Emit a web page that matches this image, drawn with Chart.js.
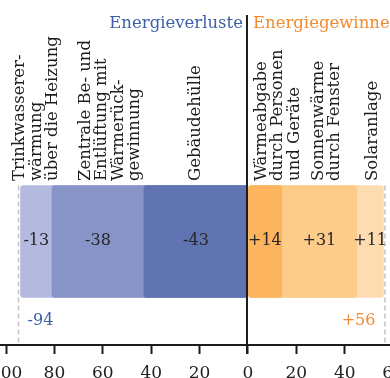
<!DOCTYPE html>
<html lang="de">
<head>
<meta charset="utf-8">
<title>Energiebilanz</title>
<script src="https://cdn.jsdelivr.net/npm/chart.js@4.4.1/dist/chart.umd.min.js"></script>
<style>
  html, body { margin: 0; padding: 0; background: #fff; }
  #wrap { width: 390px; height: 378px; }
</style>
</head>
<body>
<div id="wrap"><canvas id="chart" width="390" height="378"></canvas></div>
<script>
// Energiebilanz eines Gebäudes: Verluste links der Null, Gewinne rechts

// Verluste, von links nach rechts
const lossLabels = [
  ['Trinkwasserer-', 'wärmung', 'über die Heizung'],
  ['Zentrale Be- und', 'Entlüftung mit', 'Wärmerück-', 'gewinnung'],
  ['Gebäudehülle']
];
const lossValues = [-13, -38, -43];

// Gewinne, von links nach rechts
const gainLabels = [
  ['Wärmeabgabe', 'durch Personen', 'und Geräte'],
  ['Sonnenwärme', 'durch Fenster'],
  ['Solaranlage']
];
const gainValues = [14, 31, 11];

const tickValues = [-100, -80, -60, -40, -20, 0, 20, 40, 60];
const tickLabels = ['100', '80', '60', '40', '20', '0', '20', '40', '60'];

const lossColors = ['#b4badf', '#8894c7', '#6074b1'];
const gainColors = ['#fcb45f', '#fdcb8a', '#fedcb1'];
const BLUE = '#3b5fa9';
const ORANGE = '#f28a2e';
const INK = '#1c1c1c';
const FONT = '"DejaVu Serif", serif';

// small sideways nudges for the rotated label blocks
const labelShift = [0, 12, 0, 13, 7, 2];

const sum = arr => arr.reduce((a, b) => a + b, 0);

// every segment knows its inner and outer edge; nearest to zero = rank 0
const segments = [];
lossValues.forEach((v, i) => {
  const inner = sum(lossValues.slice(i + 1));
  segments.push({ value: v, inner: inner, outer: inner + v, lines: lossLabels[i],
    color: lossColors[i], rank: lossValues.length - 1 - i, text: String(v) });
});
gainValues.forEach((v, i) => {
  const inner = sum(gainValues.slice(0, i));
  segments.push({ value: v, inner: inner, outer: inner + v, lines: gainLabels[i],
    color: gainColors[i], rank: i, text: '+' + v });
});

const lossTotal = sum(lossValues);
const gainTotal = sum(gainValues);

// bars run from zero to their outer edge and overlap, inner ones on top
const datasets = segments.map(s => ({
  label: s.lines.join(' '),
  data: [[Math.min(0, s.outer), Math.max(0, s.outer)]],
  backgroundColor: s.color,
  borderWidth: 0,
  borderRadius: 3,
  borderSkipped: false,
  barThickness: 112,
  grouped: false,
  order: s.rank
}));

const overlay = {
  id: 'overlay',
  afterDatasetsDraw(chart) {
    const { ctx } = chart;
    const x = chart.scales.x;
    const bar = chart.getDatasetMeta(0).data[0];
    const barTop = bar.y - bar.height / 2;
    const barBottom = bar.y + bar.height / 2;
    const x0 = x.getPixelForValue(0);

    ctx.save();

    // dashed guides at both totals
    ctx.strokeStyle = '#c4c4c4';
    ctx.lineWidth = 1.5;
    ctx.setLineDash([5, 3]);
    [[lossTotal, -2], [gainTotal, 1.5]].forEach(([v, d]) => {
      const px = x.getPixelForValue(v) + d;
      ctx.beginPath();
      ctx.moveTo(px, barTop);
      ctx.lineTo(px, x.top);
      ctx.stroke();
    });
    ctx.setLineDash([]);

    // zero line
    ctx.strokeStyle = INK;
    ctx.lineWidth = 2;
    ctx.beginPath();
    ctx.moveTo(x0 - 1, 15);
    ctx.lineTo(x0 - 1, x.top + 9);
    ctx.stroke();

    // values inside the bars
    ctx.font = '16px ' + FONT;
    ctx.fillStyle = '#262626';
    ctx.textAlign = 'center';
    ctx.textBaseline = 'middle';
    segments.forEach(s => {
      ctx.fillText(s.text, x.getPixelForValue((s.inner + s.outer) / 2), bar.y - 1);
    });

    // totals
    ctx.fillStyle = BLUE;
    ctx.textAlign = 'left';
    ctx.fillText(String(lossTotal), x.getPixelForValue(lossTotal) + 7, barBottom + 23);
    ctx.fillStyle = ORANGE;
    ctx.textAlign = 'right';
    ctx.fillText('+' + gainTotal, x.getPixelForValue(gainTotal) - 8, barBottom + 23);

    // headings
    ctx.font = '16.5px ' + FONT;
    ctx.textBaseline = 'alphabetic';
    ctx.fillStyle = BLUE;
    ctx.textAlign = 'right';
    ctx.fillText('Energieverluste', x0 - 5, 28);
    ctx.fillStyle = ORANGE;
    ctx.textAlign = 'left';
    ctx.fillText('Energiegewinne', x0 + 5, 28);

    // rotated category labels, read bottom to top
    const lineGap = 16.3;
    ctx.fillStyle = INK;
    segments.forEach((s, k) => {
      const n = s.lines.length;
      const centre = x.getPixelForValue((s.inner + s.outer) / 2);
      const first = centre - ((n - 1) * lineGap - 9) / 2 + labelShift[k];
      ctx.save();
      ctx.translate(first, 181);
      ctx.rotate(-Math.PI / 2);
      s.lines.forEach((line, j) => ctx.fillText(line, 0, j * lineGap));
      ctx.restore();
    });

    ctx.restore();
  }
};

new Chart(document.getElementById('chart'), {
  type: 'bar',
  data: { labels: ['Energiebilanz'], datasets: datasets },
  options: {
    indexAxis: 'y',
    responsive: false,
    devicePixelRatio: 1,
    animation: false,
    layout: { padding: { top: 138, left: 0, right: 0, bottom: 0 } },
    plugins: { legend: { display: false }, tooltip: { enabled: false } },
    scales: {
      y: { display: false },
      x: {
        type: 'linear',
        min: -102.5,
        max: 58.7,
        afterBuildTicks: scale => { scale.ticks = tickValues.map(v => ({ value: v })); },
        afterFit: scale => { scale.paddingLeft = 0; scale.paddingRight = 0; scale.height = 33; },
        border: { display: true, color: INK, width: 2 },
        grid: { drawOnChartArea: false, drawTicks: true, tickLength: 9, tickWidth: 2, tickColor: INK },
        ticks: {
          autoSkip: false,
          maxRotation: 0,
          padding: 9,
          color: '#222',
          font: { family: FONT, size: 17 },
          callback: (value, index) => tickLabels[index]
        }
      }
    }
  },
  plugins: [overlay]
});
</script>
</body>
</html>
